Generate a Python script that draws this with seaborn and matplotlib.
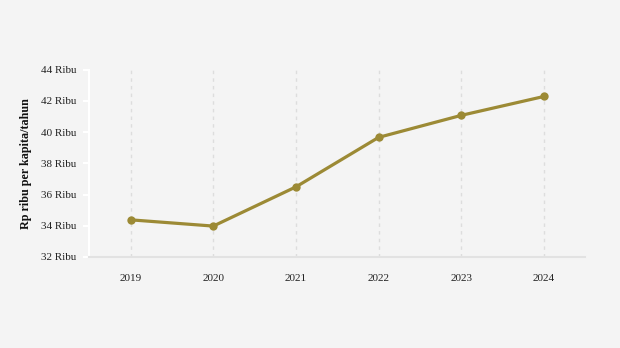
import matplotlib
matplotlib.use("Agg")
import matplotlib.pyplot as plt
import seaborn as sns
import pandas as pd
from matplotlib.ticker import FuncFormatter

years = [2019, 2020, 2021, 2022, 2023, 2024]
values = [34.38, 33.98, 36.49, 39.66, 41.07, 42.28]
y_ticks = [32, 34, 36, 38, 40, 42, 44]

BG = "#f4f4f4"
LINE = "#9c8a35"

sns.set_theme(style="white")
plt.rcParams["font.family"] = ["Liberation Serif", "DejaVu Serif"]

df = pd.DataFrame({"Tahun": years, "Nilai": values})

fig = plt.figure(figsize=(6.2, 3.48), dpi=100, facecolor=BG)
ax = fig.add_axes([0.144, 0.2615, 0.800, 0.5385])
ax.set_facecolor(BG)

for yr in years:
    ax.axvline(yr, color="#dddddd", lw=1.0, ls=(0, (2.5, 3)), zorder=0)

sns.lineplot(data=df, x="Tahun", y="Nilai", ax=ax, color=LINE, lw=2.3,
             marker="o", markersize=6, markeredgewidth=0, zorder=3)

ax.set_xlim(2018.5, 2024.5)
ax.set_ylim(32, 44)
ax.set_xticks(years)
ax.set_xticklabels([str(y) for y in years])
ax.set_yticks(y_ticks)
ax.yaxis.set_major_formatter(FuncFormatter(lambda v, p: f"{int(v)} Ribu"))

for s in ["top", "right"]:
    ax.spines[s].set_visible(False)
ax.spines["left"].set_color("white")
ax.spines["left"].set_linewidth(1.5)
ax.spines["bottom"].set_color("#e2e2e2")
ax.spines["bottom"].set_linewidth(1.5)

ax.tick_params(axis="y", which="major", length=4.5, width=1.5, color="white",
               labelsize=8, pad=5, left=True)
ax.tick_params(axis="x", length=0, labelsize=8, pad=12)
for lbl in ax.get_xticklabels() + ax.get_yticklabels():
    lbl.set_color("#222222")

ax.set_xlabel("")
ax.set_ylabel("Rp ribu per kapita/tahun", fontsize=8.7, fontweight="bold",
              color="#111111", labelpad=6)

fig.savefig("out.png", dpi=100, facecolor=BG)
